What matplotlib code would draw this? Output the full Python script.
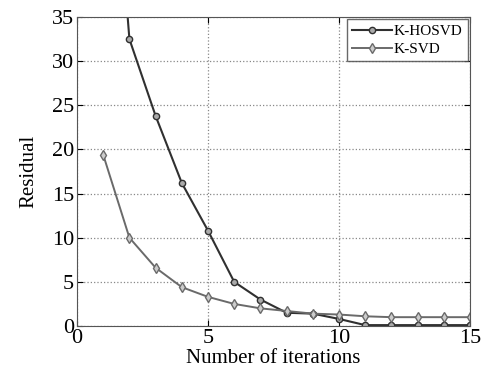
import matplotlib
matplotlib.use('Agg')
import matplotlib.pyplot as plt

# data
iters = list(range(1, 16))
k_hosvd = [70.0, 32.5, 23.8, 16.2, 10.8, 5.0, 3.0, 1.5, 1.4, 0.8, 0.1, 0.1, 0.1, 0.1, 0.1]
k_svd = [19.4, 10.0, 6.6, 4.4, 3.3, 2.5, 2.0, 1.7, 1.4, 1.3, 1.1, 1.0, 1.0, 1.0, 1.0]

plt.rcParams['font.family'] = ['Liberation Serif', 'DejaVu Serif']

fig = plt.figure(figsize=(4.86, 3.76), dpi=100)
ax = fig.add_axes([77 / 486, 1 - 326 / 376, 393 / 486, 309 / 376])

ax.plot(iters, k_hosvd, color='#303030', linewidth=1.5, marker='o', markersize=4.5,
        markerfacecolor='#aaaaaa', markeredgecolor='#303030', markeredgewidth=1.0, label='K-HOSVD')
ax.plot(iters, k_svd, color='#6a6a6a', linewidth=1.4, marker='d', markersize=5.5,
        markerfacecolor='#cccccc', markeredgecolor='#6a6a6a', markeredgewidth=1.0, label='K-SVD')

ax.set_xlim(0, 15)
ax.set_ylim(0, 35)
ax.set_xticks([0, 5, 10, 15])
ax.set_yticks([0, 5, 10, 15, 20, 25, 30, 35])
ax.tick_params(direction='in', labelsize=16, length=4, top=True, right=True, pad=2)
ax.grid(True, linestyle=':', color='#888888', linewidth=0.9)
for s in ax.spines.values():
    s.set_color('#555555')

ax.set_xlabel('Number of iterations', fontsize=15, labelpad=1)
ax.set_ylabel('Residual', fontsize=15, labelpad=10)

leg = ax.legend(loc='upper right', fontsize=11, frameon=True, fancybox=False,
                edgecolor='#444444', handlelength=2.6, handletextpad=0.1,
                borderpad=0.35, labelspacing=0.25, borderaxespad=0.15)
leg.get_frame().set_linewidth(1.0)

fig.savefig('out.png', dpi=100)
